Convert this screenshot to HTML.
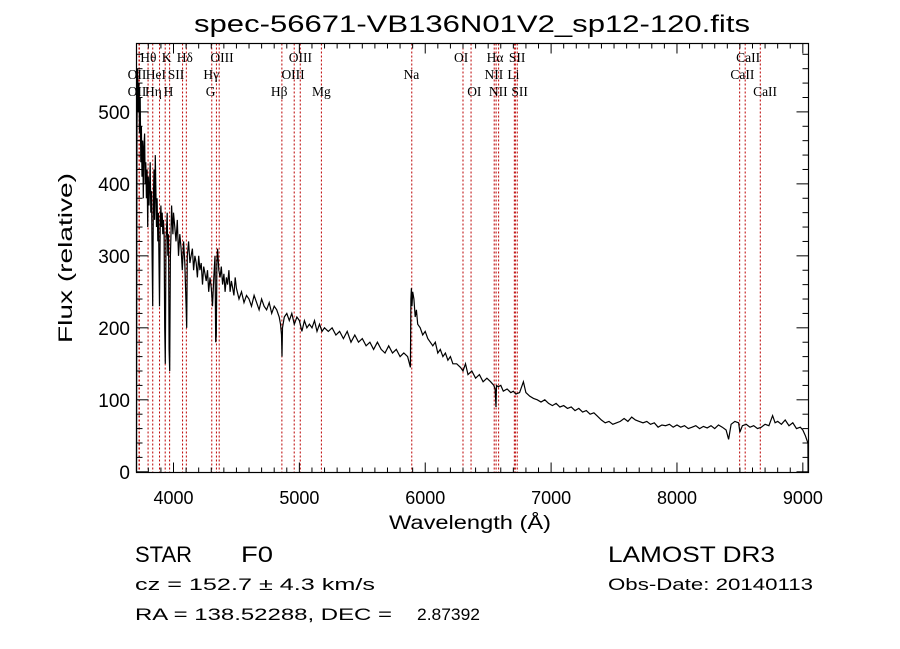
<!DOCTYPE html>
<html><head><meta charset="utf-8"><style>
html,body{margin:0;padding:0;background:#fff;}
svg{display:block;font-family:"Liberation Sans",sans-serif;}
text{white-space:pre;}
.lbl{font-family:"Liberation Serif",serif;font-size:13.5px;fill:#000;}
</style></head><body>
<svg id="chart" width="900" height="649" viewBox="0 0 900 649" xmlns="http://www.w3.org/2000/svg" xml:space="preserve">
<rect width="900" height="649" fill="#fff"/>
<text x="472" y="32" font-size="24" text-anchor="middle" textLength="556" lengthAdjust="spacingAndGlyphs">spec-56671-VB136N01V2_sp12-120.fits</text>
<g id="lines"></g>
<g id="labels"></g>
<path id="spec" fill="none" stroke="#000" stroke-width="1.2"/>
<rect x="136.5" y="43.5" width="672" height="429" fill="none" stroke="#000" stroke-width="1.2"/>
<g id="ticks"></g>
<text x="470" y="529" font-size="19" text-anchor="middle" textLength="162" lengthAdjust="spacingAndGlyphs">Wavelength (Å)</text>
<text transform="translate(72,258) rotate(-90)" font-size="19" text-anchor="middle" textLength="170" lengthAdjust="spacingAndGlyphs">Flux (relative)</text>
<text x="135" y="562" font-size="22">STAR</text>
<text x="241" y="562" font-size="22" textLength="32" lengthAdjust="spacingAndGlyphs">F0</text>
<text x="135" y="590" font-size="17" textLength="240" lengthAdjust="spacingAndGlyphs">cz = 152.7 ± 4.3 km/s</text>
<text x="135" y="620" font-size="17" textLength="257" lengthAdjust="spacingAndGlyphs">RA = 138.52288, DEC =</text>
<text x="417" y="620" font-size="17" textLength="63" lengthAdjust="spacingAndGlyphs">2.87392</text>
<text x="608" y="562" font-size="22" textLength="167" lengthAdjust="spacingAndGlyphs">LAMOST DR3</text>
<text x="608" y="590" font-size="17" textLength="205" lengthAdjust="spacingAndGlyphs">Obs-Date: 20140113</text>
</svg>
<script>
const wl=[3706,3708,3710,3715,3720,3725,3730,3735,3740,3745,3750,3755,3760,3765,3770,3775,3780,3785,3790,3795,3800,3805,3810,3815,3820,3825,3830,3835,3840,3845,3850,3855,3860,3865,3870,3875,3880,3885,3889,3895,3900,3905,3910,3915,3920,3925,3930,3935,3940,3945,3950,3955,3960,3965,3970,3975,3980,3985,3990,3995,4000,4010,4020,4030,4040,4050,4060,4070,4080,4090,4100,4105,4110,4120,4130,4140,4150,4160,4170,4180,4190,4200,4210,4220,4230,4240,4250,4260,4270,4280,4290,4300,4310,4320,4330,4335,4340,4345,4350,4360,4370,4380,4390,4400,4410,4420,4430,4440,4450,4460,4470,4480,4490,4500,4520,4540,4560,4580,4600,4620,4640,4660,4680,4700,4720,4740,4760,4780,4800,4820,4840,4850,4858,4862,4866,4880,4900,4920,4940,4960,4980,5000,5020,5040,5060,5080,5100,5120,5140,5160,5180,5200,5230,5260,5290,5320,5350,5380,5410,5440,5470,5500,5530,5560,5590,5620,5650,5680,5710,5740,5770,5800,5830,5860,5875,5882,5886,5890,5895,5900,5910,5920,5930,5940,5960,5980,6000,6020,6040,6060,6080,6100,6120,6140,6160,6180,6200,6220,6250,6280,6300,6320,6340,6370,6400,6430,6460,6490,6520,6545,6555,6562,6566,6580,6600,6620,6650,6680,6700,6720,6750,6780,6800,6830,6860,6890,6920,6950,6980,7010,7040,7070,7100,7130,7160,7190,7220,7250,7280,7310,7340,7370,7400,7430,7460,7490,7520,7550,7580,7610,7640,7670,7700,7730,7760,7790,7820,7850,7880,7910,7940,7970,8000,8030,8060,8090,8120,8150,8180,8210,8240,8270,8300,8330,8360,8390,8410,8430,8460,8490,8500,8520,8550,8580,8610,8640,8670,8700,8730,8760,8780,8800,8830,8860,8890,8920,8950,8980,9000,9020,9040,9042];
const flux=[0,300,480,560,500,540,470,520,430,480,410,460,380,450,470,400,430,380,420,340,410,370,400,430,360,390,300,230,380,420,350,440,390,340,380,320,360,290,230,350,370,340,360,330,350,330,200,150,320,340,360,300,330,170,140,300,330,370,350,330,360,340,320,350,300,330,310,280,320,290,230,200,300,320,290,300,310,280,300,290,270,300,280,290,260,285,275,265,280,250,270,255,230,270,300,180,190,290,310,280,270,285,260,275,250,270,260,280,250,265,255,245,270,255,240,250,235,245,240,230,245,235,225,240,230,225,235,220,230,225,215,205,190,160,200,215,220,210,220,205,215,210,195,210,200,205,200,210,195,205,195,200,195,200,190,195,185,195,180,190,180,185,175,180,170,180,170,165,175,165,170,160,165,160,150,145,240,255,230,250,240,215,225,205,200,190,195,185,180,175,180,165,170,160,165,155,160,150,150,145,140,150,135,140,130,135,125,130,125,120,115,90,120,118,120,112,115,110,112,108,110,125,110,105,102,100,97,100,95,92,95,90,92,88,90,85,88,83,85,80,82,77,72,68,70,66,68,70,74,70,76,72,70,68,70,66,68,62,65,64,66,62,65,62,64,60,62,64,60,63,61,64,60,65,62,58,45,66,70,68,55,64,66,62,64,60,62,66,64,78,68,70,66,72,64,68,60,62,58,50,40,0];
const lineWl=[3726,3729,3798,3835,3889,3934,3969,4072,4102,4304,4341,4363,4861,4959,5007,5175,5893,6300,6364,6548,6563,6583,6708,6716,6731,8498,8542,8662];
const labTxt=["Hθ","K","Hδ","OIII","OIII","OI","Hα","SII","CaII","OII","HeI","SII","Hγ","OIII","Na","NII","Li","CaII","OII","Hη","H","G","Hβ","Mg","OI","NII","SII","CaII"];
const labWl=[3800,3945,4090,4385,5008,6285,6555,6730,8565,3710,3860,4020,4300,4950,5890,6545,6700,8520,3710,3840,3960,4295,4840,5175,6390,6580,6750,8700];
const labRow=[0,0,0,0,0,0,0,0,0,1,1,1,1,1,1,1,1,1,2,2,2,2,2,2,2,2,2,2];
const xTicks=[4000,5000,6000,7000,8000,9000];
const yTicks=[0,100,200,300,400,500];
const X0=136.5,X1=808.5,Y0=472.5,Y1=43.5,W0=3706,W1=9045,F0=-1,F1=595;
function sx(w){return X0+(w-W0)/(W1-W0)*(X1-X0);}
function sy(f){return Y0-(f-F0)/(F1-F0)*(Y0-Y1);}
const NS="http://www.w3.org/2000/svg";
let d="";
for(let i=0;i<wl.length;i++){d+=(i?"L":"M")+sx(wl[i]).toFixed(1)+","+sy(flux[i]).toFixed(1);}
document.getElementById("spec").setAttribute("d",d);
const lg=document.getElementById("lines");
lineWl.forEach(w=>{const l=document.createElementNS(NS,"line");


l.setAttribute("x1",sx(w));l.setAttribute("x2",sx(w));l.setAttribute("y1",Y1);l.setAttribute("y2",Y0);
l.setAttribute("stroke","#b00");l.setAttribute("stroke-width","1");l.setAttribute("stroke-dasharray","2,2");lg.appendChild(l);});
const lb=document.getElementById("labels");
labTxt.forEach((t,i)=>{const e=document.createElementNS(NS,"text");


e.setAttribute("class","lbl");e.setAttribute("x",sx(labWl[i]));e.setAttribute("y",62+labRow[i]*17);
e.setAttribute("text-anchor","middle");e.textContent=t;lb.appendChild(e);});
const tg=document.getElementById("ticks");
function ln(x1,y1,x2,y2){const l=document.createElementNS(NS,"line");


l.setAttribute("x1",x1);l.setAttribute("y1",y1);l.setAttribute("x2",x2);l.setAttribute("y2",y2);l.setAttribute("stroke","#000");l.setAttribute("stroke-width","1");tg.appendChild(l);}
for(let w=3800;w<=9000;w+=100){const x=sx(w),L=(w%1000===0)?10:5;ln(x,Y0,x,Y0-L);ln(x,Y1,x,Y1+L);}
for(let f=0;f<=580;f+=20){const y=sy(f),L=(f%100===0)?12:6;ln(X0,y,X0+L,y);ln(X1,y,X1-L,y);}
xTicks.forEach(w=>{const e=document.createElementNS(NS,"text");


e.setAttribute("x",sx(w));e.setAttribute("y",504);e.setAttribute("font-size","18");e.setAttribute("text-anchor","middle");e.textContent=w;tg.appendChild(e);});
yTicks.forEach(f=>{const e=document.createElementNS(NS,"text");


e.setAttribute("x",130);e.setAttribute("y",sy(f)+7);e.setAttribute("font-size","19");e.setAttribute("text-anchor","end");e.textContent=f;tg.appendChild(e);});
</script>
</body></html>
